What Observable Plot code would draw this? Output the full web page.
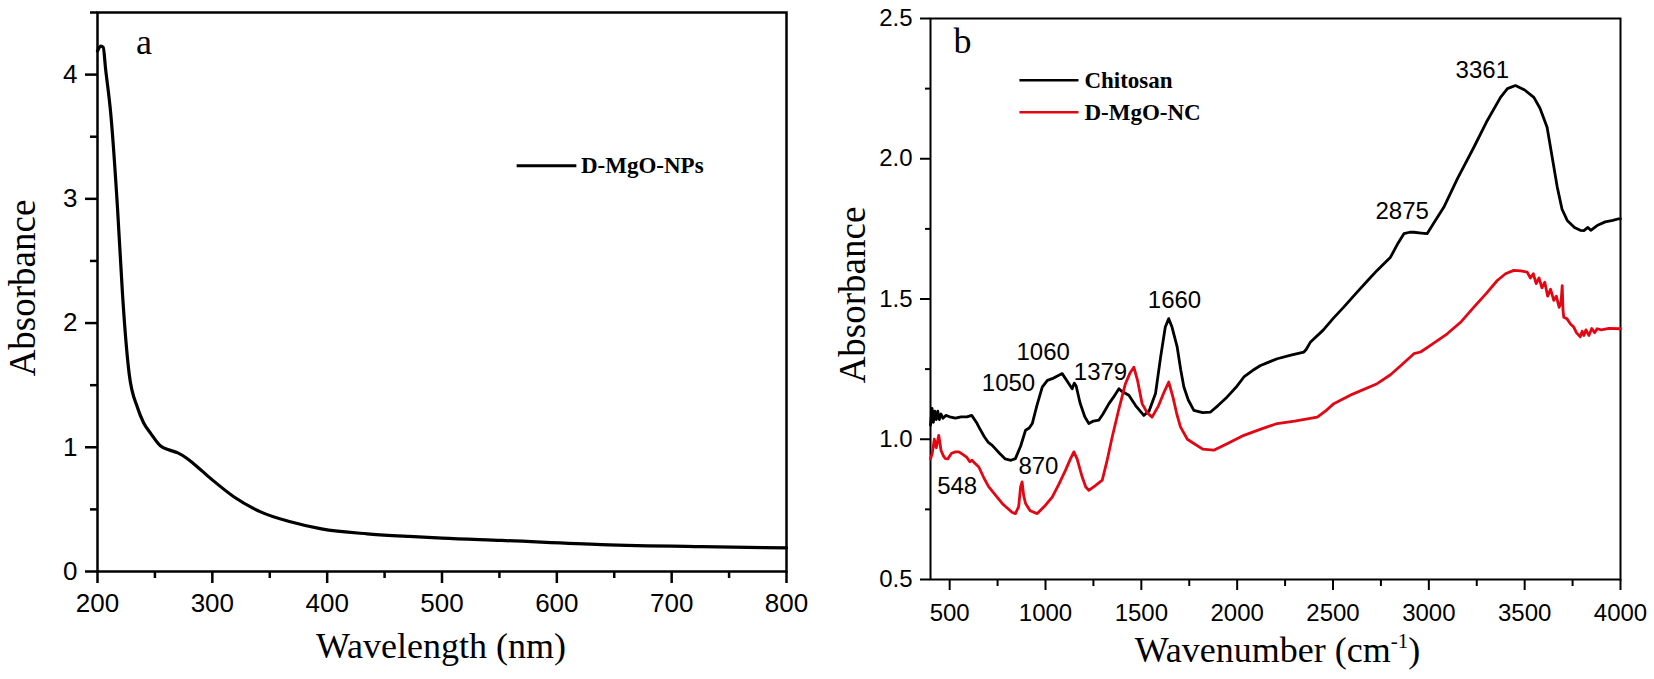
<!DOCTYPE html>
<html><head><meta charset="utf-8">
<script src="https://cdn.jsdelivr.net/npm/d3@7"></script>
<script src="https://cdn.jsdelivr.net/npm/@observablehq/plot@0.6"></script>
<style>
body{margin:0;background:#fff;}
#wrap{position:relative;width:1654px;height:679px;overflow:hidden;}
#pa{position:absolute;left:0;top:0;}
#pb{position:absolute;left:827px;top:0;}
</style></head><body><div id="wrap"><div id="pa"></div><div id="pb"></div></div>
<script>
// ---------- Panel a: UV-Vis of D-MgO-NPs ----------
const uvWavelength = [200, 203, 205, 207, 211.6, 217.4, 221.8, 224.7, 227.6, 234.8, 240, 246.5, 255, 262, 270, 278, 284, 299, 319, 342, 368, 395, 435, 470, 500, 552, 639, 726, 800];
const uvAbsorbance = [4.19, 4.23, 4.22, 4.05, 3.68, 2.93, 2.23, 1.86, 1.59, 1.32, 1.2, 1.11, 1.01, 0.98, 0.955, 0.91, 0.866, 0.745, 0.6, 0.48, 0.4, 0.343, 0.303, 0.283, 0.268, 0.25, 0.217, 0.2, 0.19];
const uvSeriesName = "D-MgO-NPs";
const aTicksMajorX = [200, 300, 400, 500, 600, 700, 800];
const aTicksMinorX = [250, 350, 450, 550, 650, 750];
const aTicksMajorY = [0, 1, 2, 3, 4];
const aTicksMinorY = [0.5, 1.5, 2.5, 3.5, 4.5];

// ---------- Panel b: FTIR ----------
const chitosanWn = [400, 408, 415, 422, 430, 438, 446, 455, 465, 480, 500, 530, 560, 590, 615, 640, 652, 680, 700, 722, 760, 790, 820, 843, 870, 896, 915, 931, 955, 983, 1010, 1035, 1060, 1087, 1110, 1139, 1150, 1160, 1180, 1205, 1226, 1250, 1278, 1300, 1331, 1355, 1383, 1400, 1435, 1470, 1513, 1540, 1574, 1600, 1625, 1643, 1660, 1687, 1705, 1722, 1745, 1774, 1820, 1861, 1900, 1948, 2000, 2035, 2080, 2122, 2165, 2209, 2280, 2348, 2360, 2383, 2450, 2500, 2556, 2620, 2680, 2730, 2800, 2840, 2870, 2900, 2922, 2960, 2991, 3030, 3078, 3150, 3235, 3300, 3374, 3410, 3452, 3500, 3548, 3580, 3617, 3645, 3670, 3695, 3722, 3760, 3790, 3809, 3830, 3845, 3878, 3920, 3960, 3991, 4000];
const chitosanAbs = [1.05, 1.11, 1.06, 1.10, 1.07, 1.10, 1.07, 1.09, 1.075, 1.085, 1.08, 1.075, 1.08, 1.08, 1.085, 1.06, 1.044, 1.01, 0.99, 0.978, 0.95, 0.93, 0.925, 0.931, 0.975, 1.032, 1.04, 1.056, 1.12, 1.186, 1.21, 1.216, 1.225, 1.234, 1.21, 1.18, 1.2, 1.19, 1.13, 1.08, 1.056, 1.065, 1.068, 1.09, 1.127, 1.15, 1.18, 1.17, 1.157, 1.12, 1.085, 1.1, 1.163, 1.29, 1.4, 1.43, 1.4, 1.329, 1.25, 1.186, 1.14, 1.103, 1.095, 1.097, 1.12, 1.151, 1.19, 1.222, 1.245, 1.263, 1.275, 1.287, 1.3, 1.311, 1.32, 1.347, 1.39, 1.43, 1.471, 1.52, 1.565, 1.602, 1.649, 1.7, 1.733, 1.738, 1.738, 1.735, 1.733, 1.775, 1.827, 1.93, 2.041, 2.13, 2.219, 2.25, 2.261, 2.245, 2.219, 2.18, 2.112, 2.0, 1.899, 1.82, 1.78, 1.755, 1.745, 1.744, 1.755, 1.745, 1.762, 1.775, 1.78, 1.786, 1.786];
const ncWn = [400, 409, 420, 430, 443, 455, 468, 478, 490, 510, 530, 548, 570, 590, 605, 617, 630, 652, 680, 704, 740, 774, 800, 825, 843, 860, 870, 878, 886, 896, 920, 957, 1000, 1035, 1070, 1104, 1130, 1148, 1165, 1191, 1210, 1226, 1260, 1296, 1320, 1348, 1380, 1417, 1440, 1461, 1480, 1504, 1530, 1556, 1590, 1620, 1643, 1665, 1685, 1704, 1740, 1774, 1820, 1878, 1950, 2035, 2120, 2209, 2300, 2418, 2460, 2504, 2600, 2730, 2800, 2850, 2922, 2957, 3020, 3096, 3170, 3235, 3300, 3357, 3400, 3443, 3480, 3513, 3530, 3545, 3560, 3575, 3590, 3605, 3620, 3635, 3652, 3665, 3680, 3690, 3696, 3700, 3704, 3720, 3740, 3756, 3770, 3790, 3800, 3809, 3820, 3835, 3850, 3865, 3878, 3900, 3940, 3991, 4000];
const ncAbs = [0.93, 0.949, 1.0, 0.97, 1.014, 0.96, 0.94, 0.931, 0.93, 0.95, 0.955, 0.955, 0.945, 0.935, 0.92, 0.925, 0.915, 0.901, 0.86, 0.83, 0.8, 0.771, 0.755, 0.74, 0.735, 0.76, 0.83, 0.848, 0.8, 0.771, 0.745, 0.735, 0.765, 0.794, 0.84, 0.889, 0.93, 0.955, 0.93, 0.866, 0.83, 0.818, 0.835, 0.854, 0.92, 1.008, 1.1, 1.198, 1.235, 1.257, 1.21, 1.127, 1.095, 1.079, 1.12, 1.17, 1.204, 1.15, 1.09, 1.044, 1.0, 0.985, 0.965, 0.961, 0.985, 1.014, 1.035, 1.056, 1.065, 1.079, 1.1, 1.127, 1.16, 1.198, 1.23, 1.26, 1.305, 1.311, 1.34, 1.376, 1.42, 1.471, 1.52, 1.566, 1.59, 1.602, 1.6, 1.596, 1.575, 1.59, 1.555, 1.575, 1.54, 1.56, 1.51, 1.535, 1.495, 1.51, 1.47, 1.49, 1.548, 1.46, 1.435, 1.43, 1.41, 1.4, 1.38, 1.365, 1.385, 1.37, 1.39, 1.37, 1.395, 1.38, 1.394, 1.39, 1.395, 1.394, 1.394];
const seriesNames = ["Chitosan", "D-MgO-NC"];
const seriesColors = ["#000000", "#e30613"];
const peakLabels = ["3361", "2875", "1660", "1060", "1050", "1379", "870", "548"];
const peakLabelX = [3279, 2861, 1673, 988, 807, 1287, 963, 539];
const peakLabelY = [2.315, 1.813, 1.495, 1.311, 1.198, 1.24, 0.905, 0.833];
const bTicksMajorX = [500, 1000, 1500, 2000, 2500, 3000, 3500, 4000];
const bTicksMinorX = [750, 1250, 1750, 2250, 2750, 3250, 3750];
const bTicksMajorY = [0.5, 1.0, 1.5, 2.0, 2.5];
const bTicksMinorY = [0.75, 1.25, 1.75, 2.25];

const SERIF = "Liberation Serif, Times New Roman, serif";
const SANS = "Liberation Sans, Arial, sans-serif";

// ---------- build panel a ----------
const uvData = uvWavelength.map((x, i) => ({x, y: uvAbsorbance[i]}));
const legendA = [{name: uvSeriesName, x1: 565, x2: 617, y: 3.266, tx: 621}];
const plotA = Plot.plot({
  width: 827, height: 679,
  marginLeft: 97, marginTop: 12, marginBottom: 108, marginRight: 41,
  style: {fontFamily: SANS, fontSize: "26px", color: "#000", background: "#fff"},
  x: {domain: [200, 800]},
  y: {domain: [0, 4.5]},
  marks: [
    Plot.axisX({ticks: aTicksMajorX, tickSize: 12, tickPadding: 10, tickFormat: d3.format("d"), strokeWidth: 2.5, label: null}),
    Plot.axisX({ticks: aTicksMinorX, tickSize: 7, tickFormat: () => "", strokeWidth: 2.5, label: null}),
    Plot.axisY({ticks: aTicksMajorY, tickSize: 12, tickPadding: 8, tickFormat: d3.format("d"), strokeWidth: 2.5, label: null}),
    Plot.axisY({ticks: aTicksMinorY, tickSize: 7, tickFormat: () => "", strokeWidth: 2.5, label: null}),
    Plot.frame({stroke: "#000", strokeWidth: 2.5}),
    Plot.line(uvData, {x: "x", y: "y", stroke: "#000", strokeWidth: 3.2, curve: "monotone-x"}),
    Plot.link(legendA, {x1: "x1", x2: "x2", y1: "y", y2: "y", stroke: "#000", strokeWidth: 3}),
    Plot.text(legendA, {x: "tx", y: "y", text: "name", textAnchor: "start", lineAnchor: "middle", fontFamily: SERIF, fontWeight: "bold", fontSize: 23}),
    Plot.text(["a"], {x: () => 233.5, y: () => 4.167, textAnchor: "start", lineAnchor: "bottom", fontFamily: SERIF, fontSize: 36}),
    Plot.text(["Absorbance"], {frameAnchor: "left", dx: -74, dy: -4, rotate: -90, textAnchor: "middle", lineAnchor: "middle", fontFamily: SERIF, fontSize: 37}),
    Plot.text(["Wavelength (nm)"], {frameAnchor: "bottom", dx: -1, dy: 86, textAnchor: "middle", lineAnchor: "bottom", fontFamily: SERIF, fontSize: 36})
  ]
});
document.getElementById("pa").append(plotA);

// ---------- build panel b ----------
const ftir = [
  ...chitosanWn.map((x, i) => ({x, y: chitosanAbs[i], s: seriesNames[0]})),
  ...ncWn.map((x, i) => ({x, y: ncAbs[i], s: seriesNames[1]}))
];
const peaks = peakLabels.map((t, i) => ({t, x: peakLabelX[i], y: peakLabelY[i]}));
const legendB = seriesNames.map((name, i) => ({name, color: seriesColors[i], x1: 864, x2: 1172, y: [2.28, 2.166][i], tx: 1203}));
const plotB = Plot.plot({
  width: 827, height: 679,
  marginLeft: 103, marginTop: 18, marginBottom: 100, marginRight: 34,
  style: {fontFamily: SANS, fontSize: "24px", color: "#000", background: "#fff"},
  x: {domain: [400, 4000]},
  y: {domain: [0.5, 2.5]},
  color: {domain: seriesNames, range: seriesColors},
  marks: [
    Plot.axisX({ticks: bTicksMajorX, tickSize: 11, tickPadding: 13, tickFormat: d3.format("d"), strokeWidth: 2, label: null}),
    Plot.axisX({ticks: bTicksMinorX, tickSize: 7, tickFormat: () => "", strokeWidth: 2, label: null}),
    Plot.axisY({ticks: bTicksMajorY, tickSize: 10, tickPadding: 8, tickFormat: d3.format(".1f"), strokeWidth: 2, label: null}),
    Plot.axisY({ticks: bTicksMinorY, tickSize: 5, tickFormat: () => "", strokeWidth: 2, label: null}),
    Plot.frame({stroke: "#000", strokeWidth: 2}),
    Plot.line(ftir, {x: "x", y: "y", z: "s", stroke: "s", strokeWidth: 2.8}),
    Plot.text(peaks, {x: "x", y: "y", text: "t", textAnchor: "middle", lineAnchor: "middle", fontFamily: SANS, fontSize: 24}),
    Plot.link(legendB, {x1: "x1", x2: "x2", y1: "y", y2: "y", stroke: "color", strokeWidth: 2.5}),
    Plot.text(legendB, {x: "tx", y: "y", text: "name", textAnchor: "start", lineAnchor: "middle", fontFamily: SERIF, fontWeight: "bold", fontSize: 23}),
    Plot.text(["b"], {x: () => 520, y: () => 2.378, textAnchor: "start", lineAnchor: "bottom", fontFamily: SERIF, fontSize: 36}),
    Plot.text(["Absorbance"], {frameAnchor: "left", dx: -77, dy: -4, rotate: -90, textAnchor: "middle", lineAnchor: "middle", fontFamily: SERIF, fontSize: 37}),
    Plot.text(["Wavenumber (cm-1)"], {frameAnchor: "bottom", dx: 2, dy: 82, textAnchor: "middle", lineAnchor: "bottom", fontFamily: SERIF, fontSize: 36})
  ]
});
document.getElementById("pb").append(plotB);

// superscript for cm-1
const tl = [...plotB.querySelectorAll("text")].find(e => e.textContent === "Wavenumber (cm-1)");
if (tl) {
  tl.textContent = "";
  const s = d3.select(tl);
  s.append("tspan").text("Wavenumber (cm");
  s.append("tspan").attr("dy", "-14").attr("font-size", "21px").text("-1");
  s.append("tspan").attr("dy", "14").text(")");
}
</script></body></html>
